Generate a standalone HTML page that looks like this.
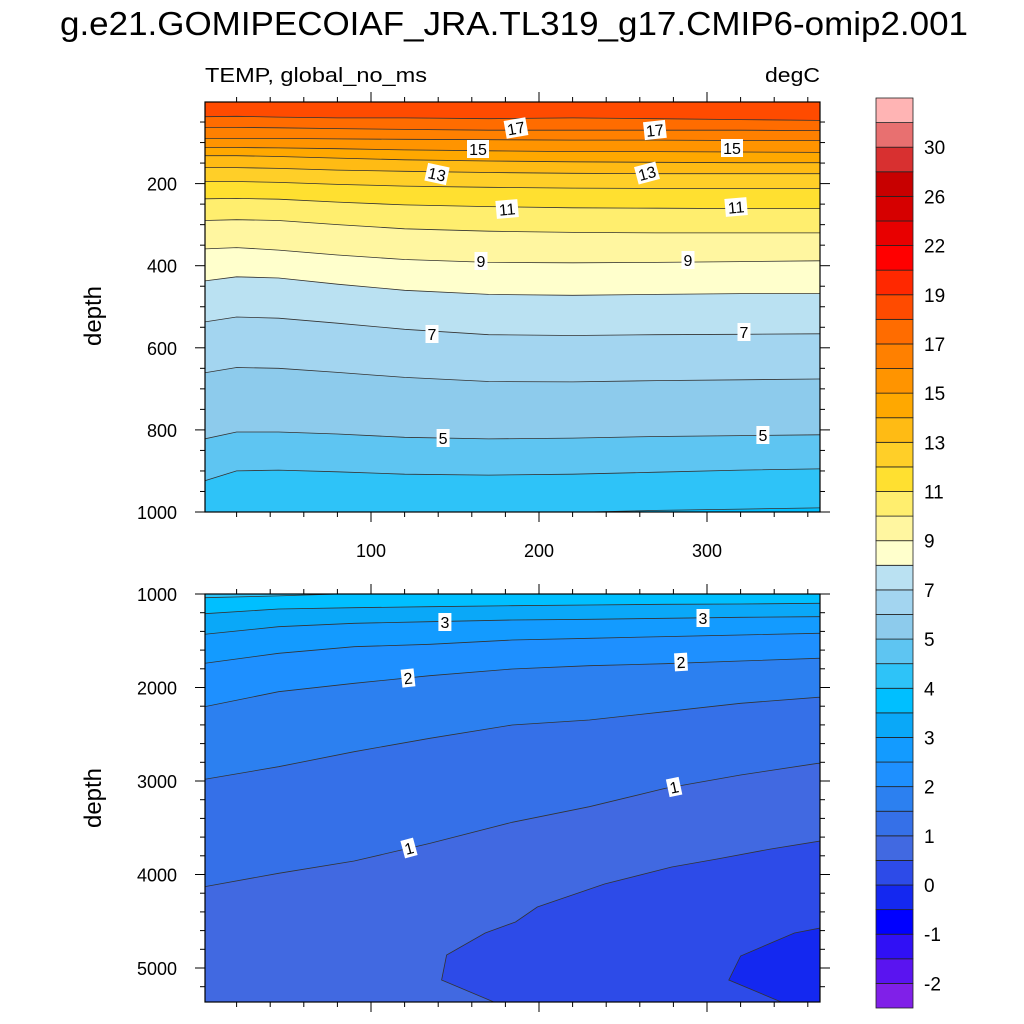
<!DOCTYPE html>
<html><head><meta charset="utf-8"><style>
html,body{margin:0;padding:0;background:#fff;}
svg{display:block;font-family:"Liberation Sans",sans-serif;}
</style></head><body>
<svg id="chart" width="1024" height="1024" viewBox="0 0 1024 1024" xmlns="http://www.w3.org/2000/svg">
<defs>
<clipPath id="clipTop"><rect x="205" y="102" width="615" height="410"/></clipPath>
<clipPath id="clipBot"><rect x="205" y="594" width="615" height="408"/></clipPath>
</defs>
<text x="60" y="35" font-size="33" textLength="908" lengthAdjust="spacingAndGlyphs">g.e21.GOMIPECOIAF_JRA.TL319_g17.CMIP6-omip2.001</text>
<text x="205" y="82" font-size="20" textLength="222" lengthAdjust="spacingAndGlyphs">TEMP, global_no_ms</text>
<text x="765" y="82" font-size="20" textLength="55" lengthAdjust="spacingAndGlyphs">degC</text>
<text transform="translate(101,316) rotate(-90)" font-size="24" text-anchor="middle">depth</text>
<text transform="translate(101,798) rotate(-90)" font-size="24" text-anchor="middle">depth</text>
<g id="topPlot"></g>
<g id="botPlot"></g>
<g id="colorbar"></g>
</svg>
<script>
// ---- data ----
const levels = [-2,-1.5,-1,-0.5,0,0.5,1,1.5,2,2.5,3,3.5,4,4.5,5,6,7,8,9,10,11,12,13,14,15,16,17,18,19,20,22,24,26,28,30,32];
const fillColors = ['#8020E8','#5A14F0','#3010F5','#0000FF','#1428F0','#2D4BE8','#4169E1','#3570E8','#2C80F0','#1E90FF','#139BFF','#0AA8F8','#00BFFF','#2EC3F8','#5EC5F2','#8DCBEC','#A3D5F0','#BAE1F2','#FFFFCC','#FFF6A0','#FFEE6E','#FFE030','#FFCF28','#FFBB14','#FFA800','#FF9400','#FF8000','#FF6C00','#FF4B00','#FF2800','#FF0000','#E80000','#D60000','#C80000','#D83030','#E87070','#FFB4B4'];
const cbLabels = ['-2','-1','0','1','2','3','4','5','7','9','11','13','15','17','19','22','26','30'];
const cbLabelLevels = [-2,-1,0,1,2,3,4,5,7,9,11,13,15,17,19,22,26,30];

// upper panel: contour depths (m) at sample days
const topDays = [1,20,45,80,120,170,220,270,320,366];
const topLevels = [4,4.5,5,6,7,8,9,10,11,12,13,14,15,16,17,18];
const topL4   = [1010,1010,1010,1010,1010,1008,1001,996,993,990];
const topL4_5 = [924,900,898,902,908,910,908,903,898,895];
const topL5   = [822,805,805,810,818,822,820,816,814,812];
const topL6   = [661,648,650,660,672,682,683,680,678,676];
const topL7   = [537,525,528,540,555,568,570,568,567,566];
const topL8   = [437,427,430,445,460,470,472,470,468,468];
const topL9   = [359,356,362,374,385,392,393,392,390,388];
const topL10  = [290,288,290,300,310,316,319,320,320,320];
const topL11  = [237,236,238,245,252,256,259,260,261,261];
const topL12  = [195,195,197,202,206,209,211,212,212,212];
const topL13  = [161,161,163,167,170,173,175,176,176,176];
const topL14  = [132,132,134,138,142,145,147,148,149,149];
const topL15  = [112,112,113,115,118,120,122,122,123,124];
const topL16  = [90,90,90,91,92,93,94,94,95,95];
const topL17  = [63,63,64,66,68,70,70,70,70,71];
const topL18  = [37,36,38,40,40,42,40,42,44,46];
const topSeries = [topL4,topL4_5,topL5,topL6,topL7,topL8,topL9,topL10,topL11,topL12,topL13,topL14,topL15,topL16,topL17,topL18];

// lower panel
const botDays = [1,45,90,135,184,230,275,320,366];
const botLevels = [1,1.5,2,2.5,3,3.5,4];
const botL1   = [4130,3987,3856,3667,3442,3275,3079,2936,2811];
const botL1_5 = [2982,2847,2687,2543,2401,2348,2259,2169,2105];
const botL2   = [2205,2045,1955,1874,1802,1767,1745,1717,1688];
const botL2_5 = [1741,1634,1564,1538,1492,1474,1456,1438,1420];
const botL3   = [1431,1350,1313,1296,1278,1271,1260,1249,1243];
const botL3_5 = [1211,1160,1146,1136,1125,1118,1110,1107,1099];
const botL4   = [1040,1020,995,990,990,990,990,990,990];
const botSeries = [botL1,botL1_5,botL2,botL2_5,botL3,botL3_5,botL4];
// cold pockets (closed toward bottom-right corner)
const pocket05Days  = [174,142,145,168,186,199,239,279,306,338,367.5];
const pocket05Depth = [5370,5128,4861,4626,4508,4348,4102,3920,3834,3727,3642];
const pocket0Days   = [345,313,320,352,367.5];
const pocket0Depth  = [5370,5128,4872,4626,4572];

// contour labels
const topLabelText  = ['17','17','15','15','13','13','11','11','9','9','7','7','5','5'];
const topLabelDay   = [186.3,269,163.7,314.9,139.3,264.3,181,317.3,165.5,288.7,136.3,322,142.9,333.3];
const topLabelDepth = [64.6,69.4,115.7,113.3,176.6,174.2,261.9,257,388.5,386.1,566.4,561.5,819.7,812.4];
const topLabelRot   = [-10,-6,0,0,12,-15,-5,-5,0,0,0,0,0,0];
const botLabelText  = ['3','3','2','2','1','1'];
const botLabelDay   = [144,297.6,122,284.5,122.6,280.4];
const botLabelDepth = [1299,1257,1898,1727,3717,3064];
const botLabelRot   = [0,0,-6,-3,-15,-12];

// ---- scales ----
const NS='http://www.w3.org/2000/svg';
const xL=205, xR=820;
function xS(day){ return 203 + 1.68*day; }
function yTop(d){ return 101.5 + 0.4105*d; }
function yBot(d){ return 594 + (d-1000)*0.0935; }
function colorIdx(lv){ return levels.indexOf(lv); }
function mk(tag, attrs, parent){ const e=document.createElementNS(NS,tag); for(const k in attrs) e.setAttribute(k,attrs[k]); parent.appendChild(e); return e; }

function linePts(days, depths, yf){
  const pts=[[xL, yf(depths[0])]];
  for(let i=0;i<days.length;i++) pts.push([xS(days[i]), yf(depths[i])]);
  pts.push([xR, yf(depths[depths.length-1])]);
  return pts;
}
function ptsStr(p){ return p.map(q=>q[0].toFixed(1)+','+q[1].toFixed(1)).join(' '); }

function drawPanel(g, clip, yTopPx, yBotPx, bgColor){
  const cg = mk('g',{'clip-path':'url(#'+clip+')'},g);
  const bg = mk('rect',{x:xL,y:yTopPx,width:xR-xL,height:yBotPx-yTopPx,fill:bgColor},cg);
  
  
  return cg;
}
function drawAbove(cg, days, lv, depths, yf, yTopPx){
  const pts=linePts(days,depths,yf);
  const poly=pts.concat([[xR,yTopPx-5],[xL,yTopPx-5]]);
  const p=mk('polygon',{points:ptsStr(poly),fill:fillColors[colorIdx(lv)+1],stroke:fillColors[colorIdx(lv)+1],'stroke-width':0.5},cg);
  
  
}
function drawLine(cg, days, lv, depths, yf){
  const l=mk('polyline',{points:ptsStr(linePts(days,depths,yf)),fill:'none',stroke:'#333','stroke-width':0.8},cg);
  
  
}
function drawPocket(cg, days, depths, lv, yf, yBotPx){
  const pts=days.map((d,i)=>[xS(d),yf(depths[i])]);
  const poly=pts.concat([[xR+5,yBotPx+5]]);
  const p=mk('polygon',{points:ptsStr(poly),fill:fillColors[colorIdx(lv)],stroke:'#333','stroke-width':0.8},cg);
  
  
}
function drawLabels(g, txt, days, depths, rots, yf){
  for(let i=0;i<txt.length;i++){
    const x=xS(days[i]), y=yf(depths[i]);
    const lg=mk('g',{transform:'translate('+x.toFixed(1)+','+y.toFixed(1)+') rotate('+rots[i]+')'},g);
    
    
    const w = txt[i].length>1 ? 22 : 13;
    mk('rect',{x:-w/2,y:-9,width:w,height:18,fill:'#fff'},lg);
    const t=mk('text',{x:0,y:6,'font-size':16,'text-anchor':'middle',fill:'#000'},lg);
    t.textContent=txt[i];
  }
}
function drawFrame(g, yT, yB, yMajor, yMinor, yf, xLabels){
  const fr=mk('rect',{x:xL,y:yT,width:xR-xL,height:yB-yT,fill:'none',stroke:'#000','stroke-width':1.2},g);
  
  
  for(let d=20; d<=366; d+=20){
    const x=xS(d), len = d%100===0?10:5;
    mk('line',{x1:x,y1:yT,x2:x,y2:yT-len,stroke:'#000','stroke-width':1},g);
    mk('line',{x1:x,y1:yB,x2:x,y2:yB+len,stroke:'#000','stroke-width':1},g);
    if(xLabels && d%100===0){
      const t=mk('text',{x:x,y:yB+45,'font-size':18,'text-anchor':'middle'},g);
      
      
      t.textContent=String(d);
    }
  }
  yMinor.forEach(d=>{
    const y=yf(d); if(y<yT-0.5||y>yB+0.5) return;
    const len = yMajor.indexOf(d)>=0?10:5;
    mk('line',{x1:xL,y1:y,x2:xL-len,y2:y,stroke:'#000','stroke-width':1},g);
    mk('line',{x1:xR,y1:y,x2:xR+len,y2:y,stroke:'#000','stroke-width':1},g);
  });
  yMajor.forEach(d=>{
    const t=mk('text',{x:xL-28,y:yf(d)+7,'font-size':18,'text-anchor':'end'},g);
    
    
    t.textContent=String(d);
  });
}

// ---- upper panel ----
const gT=document.getElementById('topPlot');
const cT=drawPanel(gT,'clipTop',102,512,fillColors[colorIdx(4)]);
topLevels.forEach((lv,i)=>drawAbove(cT,topDays,lv,topSeries[i],yTop,102));
topLevels.forEach((lv,i)=>drawLine(cT,topDays,lv,topSeries[i],yTop));
drawLabels(gT,topLabelText,topLabelDay,topLabelDepth,topLabelRot,yTop);
const topMinor=[]; for(let d=50; d<=1000; d+=50) topMinor.push(d);
drawFrame(gT,102,512,[200,400,600,800,1000],topMinor,yTop,true);

// ---- lower panel ----
const gB=document.getElementById('botPlot');
const cB=drawPanel(gB,'clipBot',594,1002,fillColors[colorIdx(0.5)+1]);
drawPocket(cB,pocket05Days,pocket05Depth,0.5,yBot,1002);
drawPocket(cB,pocket0Days,pocket0Depth,0,yBot,1002);
botLevels.forEach((lv,i)=>drawAbove(cB,botDays,lv,botSeries[i],yBot,594));
botLevels.forEach((lv,i)=>drawLine(cB,botDays,lv,botSeries[i],yBot));
drawLabels(gB,botLabelText,botLabelDay,botLabelDepth,botLabelRot,yBot);
const botMinor=[]; for(let d=1000; d<=5400; d+=200) botMinor.push(d);
drawFrame(gB,594,1002,[1000,2000,3000,4000,5000],botMinor,yBot,false);

// ---- colorbar ----
const gC=document.getElementById('colorbar');
const cbX=876, cbW=37, cbTop=98, cbBot=1008, nBox=fillColors.length, bh=(cbBot-cbTop)/nBox;
fillColors.forEach((c,i)=>{
  const r=mk('rect',{x:cbX,y:(cbBot-(i+1)*bh).toFixed(2),width:cbW,height:bh.toFixed(2),fill:c,stroke:'#222','stroke-width':0.8},gC);
  
  
});
cbLabelLevels.forEach((lv,i)=>{
  const k=colorIdx(lv);
  const y=cbBot-(k+1)*bh;
  const t=mk('text',{x:cbX+cbW+11,y:(y+7).toFixed(1),'font-size':19},gC);
  
  
  t.textContent=cbLabels[i];
});
</script>
</body></html>
